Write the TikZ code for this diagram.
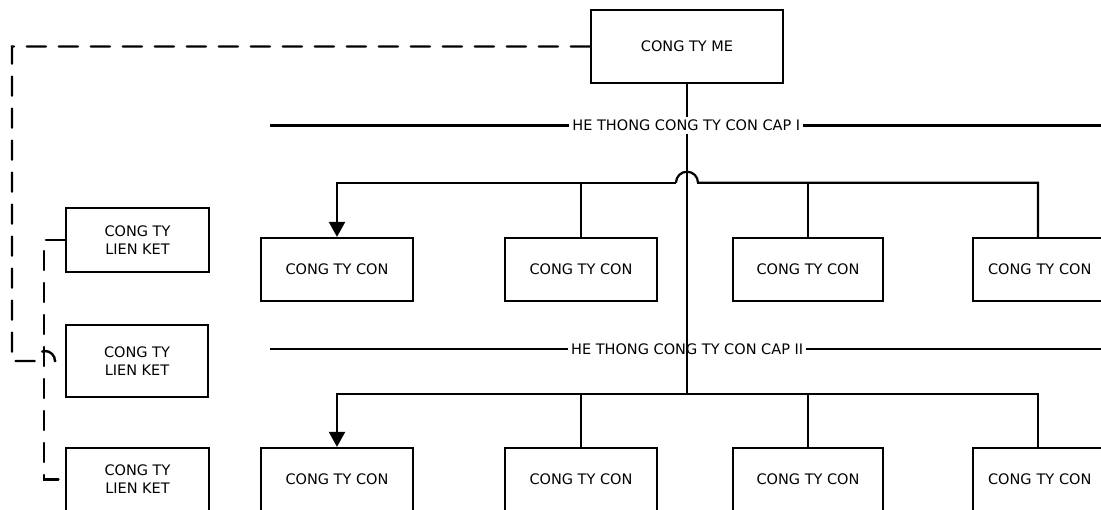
\documentclass[tikz,border=0pt]{standalone}
\usepackage{fontspec}
\setmainfont{DejaVu Sans}
\usepackage{tikz}
\usetikzlibrary{arrows.meta,calc}

\begin{document}
\begin{tikzpicture}[x=1pt,y=-1pt,
    box/.style={draw, line width=2.2pt, inner sep=0pt, minimum width=152pt,
      minimum height=63pt, align=center, font=\fontsize{14.5}{18}\selectfont},
    link/.style={line width=2.2pt},
    dashlink/.style={line width=2.4pt, dash pattern=on 19pt off 13pt, line cap=round},
    tip/.style={-{Triangle[width=16pt,length=15pt]}},
    level/.style={fill=white, inner sep=3pt, font=\fontsize{14.5}{18}\selectfont}]
  \useasboundingbox (0,0) rectangle (1101,510);
  \clip (0,0) rectangle (1101,510);

  \node[box, minimum width=192pt, minimum height=73pt] (me) at (687,46.5) {CONG TY ME};

  \node[box] (con11) at (337,269.5) {CONG TY CON};
  \node[box] (con12) at (581,269.5) {CONG TY CON};
  \node[box, minimum width=150pt] (con13) at (808,269.5) {CONG TY CON};
  \node[box, anchor=west, text width=122pt, align=left, inner xsep=15pt] (con14) at (972,269.5) {CONG TY CON};

  \node[box] (con21) at (337,479.5) {CONG TY CON};
  \node[box] (con22) at (581,479.5) {CONG TY CON};
  \node[box, minimum width=150pt] (con23) at (808,479.5) {CONG TY CON};
  \node[box, anchor=west, text width=122pt, align=left, inner xsep=15pt] (con24) at (972,479.5) {CONG TY CON};

  \node[box, minimum width=143pt, minimum height=64pt] (lk1) at (137.5,240) {CONG TY\\LIEN KET};
  \node[box, minimum width=142pt, minimum height=72pt] (lk2) at (137,361) {CONG TY\\LIEN KET};
  \node[box, minimum width=143pt] (lk3) at (137.5,479.5) {CONG TY\\LIEN KET};

  \coordinate (c1a) at (270,125.5);
  \coordinate (c1b) at (1101,125.5);
  \coordinate (c2a) at (270,349.3);
  \coordinate (c2b) at (1101,349.3);
  \coordinate (b1) at (687,182.7);
  \coordinate (b2) at (687,394);
  \coordinate (j) at (12,361);

  \draw[link] (c2a) -- (c2b) node[level, pos=0.502] (cap2) {HE THONG CONG TY CON CAP II};
  \draw[link] (me.south) -- (b2);
  \draw[link] (c1a) -- (c1b) node[level, pos=0.501] (cap1) {HE THONG CONG TY CON CAP I};

  \draw[link,tip] ($(b1)+(-11,0)$) -| (con11.north);
  \draw[link] ($(b1)+(-11,0)$) arc[start angle=180, end angle=0, radius=11pt]
    -| ($(con14.north west)+(66,0)$);
  \draw[link] (con12.north) -- (con12.north |- b1);
  \draw[link] (con13.north) -- (con13.north |- b1);

  \draw[link,tip] (b2) -| (con21.north);
  \draw[link] (b2) -| ($(con24.north west)+(66,0)$);
  \draw[link] (con22.north) -- (con22.north |- b2);
  \draw[link] (con23.north) -- (con23.north |- b2);

  \draw[dashlink] (me.west) -| (j) -- (35,361)
    arc[start angle=180, end angle=0, radius=10pt] -- (lk2.west);
  \draw[dashlink] (lk1.west) -- ++(-21,0) |- (lk3.west);
\end{tikzpicture}
\end{document}
